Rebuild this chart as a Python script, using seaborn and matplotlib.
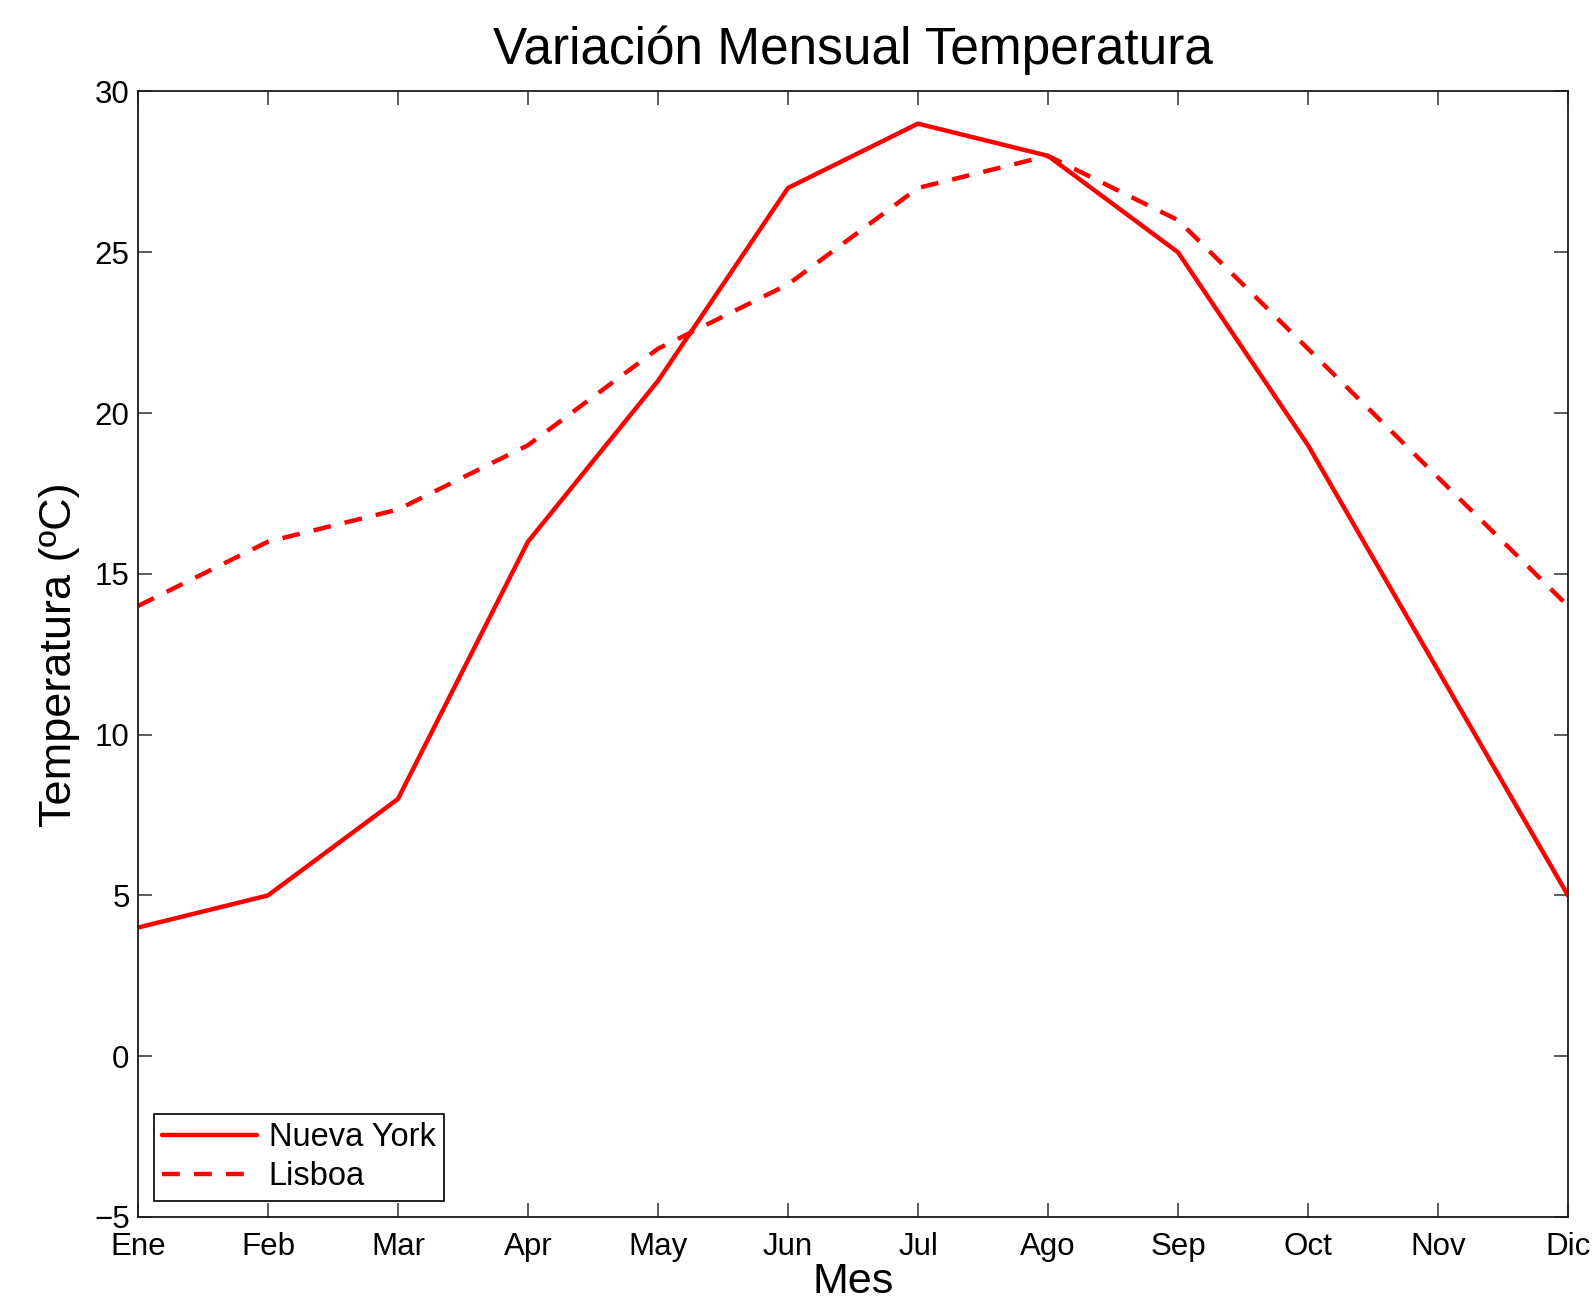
import matplotlib
matplotlib.use("Agg")
import matplotlib.pyplot as plt
import seaborn as sns
import pandas as pd

meses = ["Ene", "Feb", "Mar", "Apr", "May", "Jun", "Jul", "Ago", "Sep", "Oct", "Nov", "Dic"]
nueva_york = [4, 5, 8, 16, 21, 27, 29, 28, 25, 19, 12, 5]
lisboa = [14, 16, 17, 19, 22, 24, 27, 28, 26, 22, 18, 14]
yticks = [-5, 0, 5, 10, 15, 20, 25, 30]

sns.set_theme(style="ticks")
plt.rcParams["font.family"] = ["Liberation Sans", "DejaVu Sans"]
plt.rcParams["axes.unicode_minus"] = True
for key in ("text.color", "axes.labelcolor", "xtick.labelcolor", "ytick.labelcolor"):
    plt.rcParams[key] = "black"

df = pd.DataFrame({
    "pos": list(range(len(meses))) * 2,
    "Temperatura": nueva_york + lisboa,
    "Ciudad": ["Nueva York"] * len(meses) + ["Lisboa"] * len(meses),
})

fig = plt.figure(figsize=(15.93, 13.09), dpi=100)
ax = fig.add_axes([0.0866, 0.0703, 0.8977, 0.8598])

sns.lineplot(
    data=df, x="pos", y="Temperatura", style="Ciudad",
    style_order=["Nueva York", "Lisboa"],
    dashes={"Nueva York": "", "Lisboa": (4.0, 3.2)},
    color="#ff0000", linewidth=3.2, ax=ax, legend=True,
)

ax.set_xlim(0, len(meses) - 1)
ax.set_ylim(-5, 30)
ax.set_xticks(range(len(meses)))
ax.set_xticklabels(meses)
ax.set_yticks(yticks)
ax.set_yticklabels([str(v).replace("-", "\u2212") for v in yticks])

ax.tick_params(direction="in", length=10, width=1.2, color="#404040",
               labelsize=22.5, labelcolor="black", top=True, right=True, pad=6)
ax.tick_params(axis="x", pad=11)
for sp in ax.spines.values():
    sp.set_visible(True)
    sp.set_linewidth(1.3)
    sp.set_color("#1a1a1a")

ax.set_title("Variación Mensual Temperatura", fontsize=37, pad=20, color="black")
ax.set_xlabel("Mes", fontsize=31, labelpad=0, color="black")
ax.set_ylabel("Temperatura (ºC)", fontsize=32.5, labelpad=10, color="black")

leg = ax.legend(loc="lower left", fontsize=23.5, frameon=True, fancybox=False,
                edgecolor="#111111", framealpha=1, handlelength=2.9,
                handletextpad=0.35, borderpad=0.25, labelspacing=0.25,
                borderaxespad=0.5)
leg.get_frame().set_linewidth(1.3)
for t in leg.get_texts():
    t.set_color("black")

fig.savefig("out.png", dpi=100)
